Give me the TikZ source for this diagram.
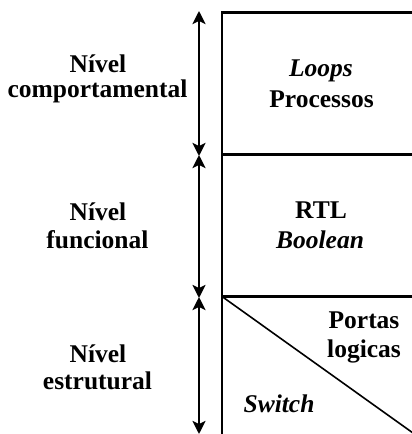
\documentclass[tikz,border=0pt]{standalone}
\usepackage{fontspec}
\setmainfont{Liberation Serif}
\usetikzlibrary{arrows.meta}
\begin{document}
\begin{tikzpicture}[x=1pt,y=-1pt,
  lbl/.style={anchor=base,inner sep=0pt,font=\fontsize{25.5}{30}\selectfont\bfseries},
  ilbl/.style={lbl,font=\fontsize{25.5}{30}\selectfont\bfseries\itshape},
  frame/.style={line width=2.2pt},
  span/.style={line width=2.6pt,{Stealth[length=13pt,width=13pt,inset=3pt]}-{Stealth[length=13pt,width=13pt,inset=3pt]}}]
\useasboundingbox (0,0) rectangle (412,434);
% level boundaries on the arrow column
\coordinate (a0) at (199,11);
\coordinate (a1) at (199,155.5);
\coordinate (a2) at (199,297.5);
\coordinate (a3) at (199,434);
% table frame
\coordinate (tl) at (222,12.5);
\coordinate (tr) at (413,12.5);
\coordinate (m1l) at (222,154.5);
\coordinate (m1r) at (413,154.5);
\coordinate (m2l) at (222,296.5);
\coordinate (m2r) at (413,296.5);
\coordinate (bl) at (222,435);
\coordinate (dend) at (413,433);
\draw[frame] (tr) -- (tl) -- (bl);
\draw[frame] (m1l) -- (m1r);
\draw[frame] (m2l) -- (m2r);
\draw[line width=1.6pt] (m2l) -- (dend);
% level arrows
\draw[span] (a0) -- ([yshift=-0.5pt]a1);
\draw[span] ([yshift=0.5pt]a1) -- ([yshift=-0.5pt]a2);
\draw[span] ([yshift=0.5pt]a2) -- (a3);
% level names
\node[lbl] (n1a) at (98,72) {Nível};
\node[lbl] (n1b) at (97.5,97) {comportamental};
\node[lbl] (n2a) at (98,220) {Nível};
\node[lbl] (n2b) at (97.5,248) {funcional};
\node[lbl] (n3a) at (98,362) {Nível};
\node[lbl] (n3b) at (97.5,389) {estrutural};
% cell contents
\node[ilbl] (c1a) at (321,76.5) {Loops};
\node[lbl] (c1b) at (321.5,107) {Processos};
\node[lbl] (c2a) at (321,218.5) {RTL};
\node[ilbl] (c2b) at (320,248.5) {Boolean};
\node[lbl] (c3a) at (364,328.5) {Portas};
\node[lbl] (c3b) at (364,357.5) {logicas};
\node[ilbl] (c3c) at (279,412.5) {Switch};
\end{tikzpicture}
\end{document}
